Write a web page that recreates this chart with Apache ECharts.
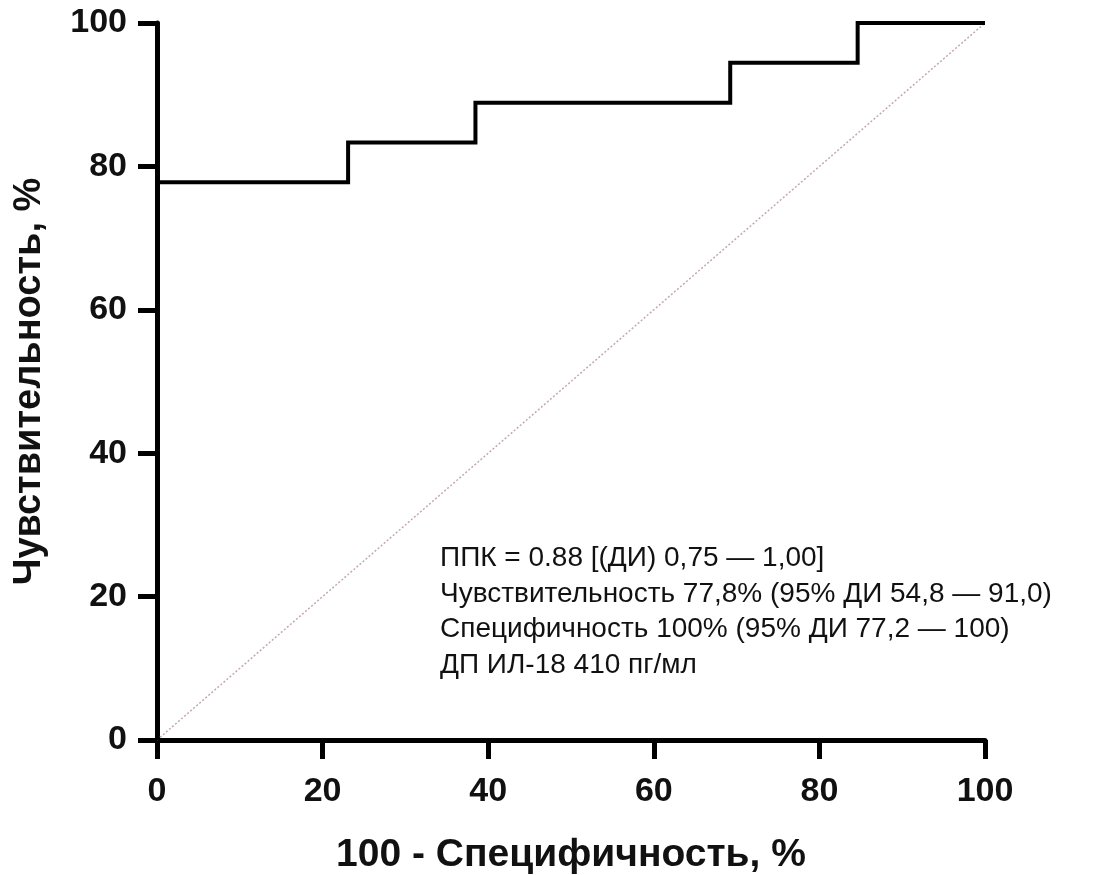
<!DOCTYPE html>
<html><head><meta charset="utf-8">
<script src="https://cdn.jsdelivr.net/npm/echarts@6/dist/echarts.min.js"></script>
<style>html,body{margin:0;padding:0;background:#fff}#c{width:1119px;height:875px}</style>
</head><body><div id="c"></div>
<script>
const fprSteps = [0, 0, 23.08, 23.08, 38.46, 38.46, 69.23, 69.23, 84.62, 84.62, 100];
const tprSteps = [0, 77.78, 77.78, 83.33, 83.33, 88.89, 88.89, 94.44, 94.44, 100, 100];
const diagX = [0, 100];
const diagY = [0, 100];
const xTicks = [0, 20, 40, 60, 80, 100];
const yTicks = [0, 20, 40, 60, 80, 100];
const annotationLines = [
  'ППК = 0.88 [(ДИ) 0,75 — 1,00]',
  'Чувствительность 77,8% (95% ДИ 54,8 — 91,0)',
  'Специфичность 100% (95% ДИ 77,2 — 100)',
  'ДП ИЛ-18 410 пг/мл'
];
const chart = echarts.init(document.getElementById('c'), null, {renderer: 'canvas'});
const axisCommon = {
  type: 'value', min: 0, max: 100, interval: 20,
  axisLine: {show: true, lineStyle: {color: '#000', width: 5}},
  axisTick: {show: true, length: 19, lineStyle: {color: '#000', width: 5}},
  splitLine: {show: false},
  axisLabel: {color: '#111', fontFamily: 'Liberation Sans', fontWeight: 'bold', fontSize: 34},
  nameLocation: 'middle',
  nameTextStyle: {color: '#111', fontFamily: 'Liberation Sans', fontWeight: 'bold', fontSize: 39}
};
chart.setOption({
  animation: false,
  backgroundColor: '#fff',
  grid: {left: 157, right: 134, top: 23, bottom: 135, containLabel: false, outerBoundsMode: 'none'},
  xAxis: Object.assign({}, axisCommon, {
    name: '100 - Специфичность, %', nameGap: 96,
    axisLabel: Object.assign({}, axisCommon.axisLabel, {margin: 35})
  }),
  yAxis: Object.assign({}, axisCommon, {
    name: 'Чувствительность, %', nameGap: 108,
    nameTextStyle: Object.assign({}, axisCommon.nameTextStyle, {fontSize: 38}),
    axisLabel: Object.assign({}, axisCommon.axisLabel, {margin: 30})
  }),
  series: [
    {
      type: 'line', data: diagX.map((x, i) => [x, diagY[i]]), symbol: 'none', z: 1,
      lineStyle: {color: '#c4a9ab', width: 1.5, type: [2, 2]}
    },
    {
      type: 'line', data: fprSteps.map((x, i) => [x, tprSteps[i]]), symbol: 'none', z: 2,
      lineStyle: {color: '#000', width: 4, join: 'miter'}
    }
  ],
  graphic: [{
    type: 'text', left: 440, top: 541,
    style: {
      text: annotationLines.join('\n'), fill: '#111',
      font: '28px "Liberation Sans"', lineHeight: 35.5
    }
  }]
});
</script></body></html>
